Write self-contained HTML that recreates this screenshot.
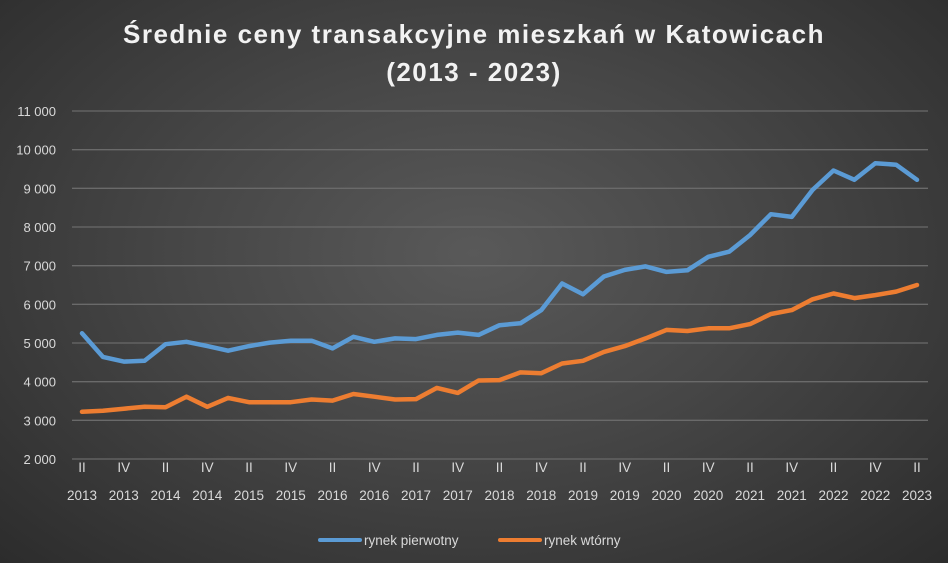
<!DOCTYPE html>
<html><head><meta charset="utf-8"><style>
html,body{margin:0;padding:0;}
body{width:948px;height:563px;overflow:hidden;background:radial-gradient(ellipse at 50% 45%,#595959 0%,#464646 45%,#2c2c2c 100%);font-family:"Liberation Sans",sans-serif;}
svg{display:block}
</style></head><body>
<svg id="chart" width="948" height="563">
<text x="474" y="43" text-anchor="middle" font-size="26" font-weight="bold" fill="#f2f2f2" letter-spacing="1.5">Średnie ceny transakcyjne mieszkań w Katowicach</text>
<text x="474" y="81" text-anchor="middle" font-size="26" font-weight="bold" fill="#f2f2f2" letter-spacing="1.5">(2013 - 2023)</text>
<g id="grid"></g><g id="ylab"></g><g id="xlab"></g><g id="series"></g>
<g>
<line x1="320" y1="540" x2="360" y2="540" stroke="#5b9bd5" stroke-width="4" stroke-linecap="round"/>
<text x="364" y="545" font-size="13.5" fill="#d9d9d9">rynek pierwotny</text>
<line x1="500" y1="540" x2="540" y2="540" stroke="#ed7d31" stroke-width="4" stroke-linecap="round"/>
<text x="544" y="545" font-size="13.5" fill="#d9d9d9">rynek wtórny</text>
</g>
</svg>
<script>
const yTicks=[2000,3000,4000,5000,6000,7000,8000,9000,10000,11000];
const yTickLabels=["2 000","3 000","4 000","5 000","6 000","7 000","8 000","9 000","10 000","11 000"];
const quarters=["II","III","IV","I"];
const primaryMarket=[5250,4640,4520,4540,4970,5030,4920,4800,4920,5010,5060,5060,4860,5160,5030,5120,5100,5210,5270,5210,5460,5510,5850,6540,6260,6720,6890,6980,6840,6880,7230,7360,7790,8330,8260,8960,9460,9220,9650,9610,9220];
const secondaryMarket=[3220,3250,3300,3350,3340,3610,3350,3580,3470,3470,3470,3540,3510,3680,3610,3540,3550,3840,3710,4030,4040,4240,4220,4470,4540,4770,4920,5120,5340,5310,5380,5380,5490,5750,5850,6130,6280,6160,6240,6330,6500];
const NS="http://www.w3.org/2000/svg";
const x0=82,x1=917,yTop=111,yBot=459;
function xs(i){return x0+(x1-x0)*i/(secondaryMarket.length-1);}
function ys(v){return yBot-(v-2000)/9000*(yBot-yTop);}
const grid=document.getElementById('grid'),ylab=document.getElementById('ylab'),xlab=document.getElementById('xlab'),ser=document.getElementById('series');
yTicks.forEach((v,k)=>{
 const l=document.createElementNS(NS,'line');
 l.setAttribute('x1',72);l.setAttribute('x2',928);l.setAttribute('y1',ys(v));l.setAttribute('y2',ys(v));
 l.setAttribute('stroke','#6a6a6a');l.setAttribute('stroke-width','1.3');
 
 
 grid.appendChild(l);
 const t=document.createElementNS(NS,'text');
 t.setAttribute('x',56);t.setAttribute('y',ys(v)+5);t.setAttribute('text-anchor','end');
 t.setAttribute('font-size','13');t.setAttribute('fill','#d9d9d9');t.textContent=yTickLabels[k];
 
 
 ylab.appendChild(t);
});
for(let i=0;i<secondaryMarket.length;i+=2){
 const yr=2013+Math.floor((i+1)/4);
 const q=quarters[i%4];
 [[q,472],[String(yr),500]].forEach(([s,y])=>{
  const t=document.createElementNS(NS,'text');
  t.setAttribute('x',xs(i));t.setAttribute('y',y);t.setAttribute('text-anchor','middle');
  t.setAttribute('font-size','13.5');t.setAttribute('fill','#d9d9d9');t.textContent=s;
  
  
  xlab.appendChild(t);
 });
}
function line(data,color,name){
 const p=document.createElementNS(NS,'polyline');
 p.setAttribute('points',data.map((v,i)=>xs(i).toFixed(1)+','+ys(v).toFixed(1)).join(' '));
 p.setAttribute('fill','none');p.setAttribute('stroke',color);p.setAttribute('stroke-width','4.5');
 p.setAttribute('stroke-linejoin','round');p.setAttribute('stroke-linecap','round');
 
 
 ser.appendChild(p);
}
line(secondaryMarket,'#ed7d31','series-secondary-market');
line(primaryMarket,'#5b9bd5','series-primary-market');
</script>
</body></html>
